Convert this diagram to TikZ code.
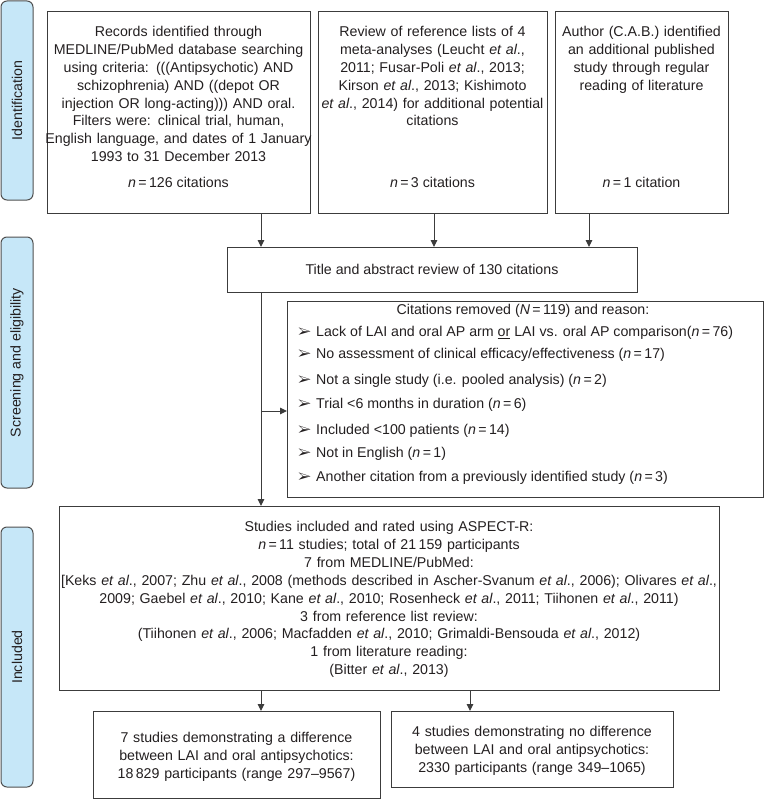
\documentclass[tikz,border=0pt]{standalone}
\usepackage{fontspec}
\setmainfont{Liberation Sans}
\usepackage{pifont}
\usetikzlibrary{arrows.meta}
\definecolor{txt}{HTML}{231F20}
\definecolor{ln}{HTML}{3C3C3C}
\definecolor{barfill}{HTML}{C6E7F8}
\definecolor{barline}{HTML}{505050}
\newcommand{\etal}{\textit{et al}.}
\newcommand{\nn}{\textit{n}\,=\,}
\newcommand{\fsz}{\fontsize{14.2}{17.9}\selectfont}
\newcommand{\bul}{\makebox[18pt][l]{\ding{226}}}
\begin{document}
\begin{tikzpicture}[x=1pt,y=-1pt,
  every node/.style={text=txt, font=\fsz},
  box/.style={draw=ln, line width=1pt, inner sep=0pt, anchor=north west},
  bar/.style={draw=barline, fill=barfill, line width=1pt, rounded corners=6pt, rotate=90, inner sep=0pt, minimum height=32pt},
  txtc/.style={anchor=base, align=center, inner sep=0pt},
  item/.style={anchor=base west, inner sep=0pt},
  arr/.style={draw=ln, line width=1pt, -{Triangle[length=7pt,width=6.5pt]}}]
\useasboundingbox (0,0) rectangle (765,800);

% side bars
\node[bar, minimum width=199pt] (idbar) at (17,100.5) {Identification};
\node[bar, minimum width=251pt] (scbar) at (17,362.5) {Screening and eligibility};
\node[bar, minimum width=260pt] (inbar) at (17,657) {Included};

% identification boxes
\node[box, minimum width=263pt, minimum height=202pt] (rec) at (47,11) {};
\node[box, minimum width=229pt, minimum height=202pt] (ref) at (318,11) {};
\node[box, minimum width=173pt, minimum height=202pt] (auth) at (555,11) {};

\node[txtc, text width=300pt] (rect) at (178.5,36.5) {Records identified through\\
MEDLINE/PubMed database searching\\
using criteria: (((Antipsychotic) AND\\
schizophrenia) AND ((depot OR\\
injection OR long-acting))) AND oral.\\
Filters were: clinical trial, human,\\
English language, and dates of 1 January\\
1993 to 31 December 2013};
\node[txtc] (recn) at (178.5,187.8) {\nn 126 citations};

\node[txtc, text width=260pt] (reft) at (432.5,36.5) {Review of reference lists of 4\\
meta-analyses (Leucht \etal,\\
2011; Fusar-Poli \etal, 2013;\\
Kirson \etal, 2013; Kishimoto\\
\etal, 2014) for additional potential\\
citations};
\node[txtc] (refn) at (432.5,187.8) {\nn 3 citations};

\node[txtc, text width=200pt] (autht) at (641.5,36.5) {Author (C.A.B.) identified\\
an additional published\\
study through regular\\
reading of literature};
\node[txtc] (authn) at (641.5,187.8) {\nn 1 citation};

% screening
\node[box, minimum width=410pt, minimum height=45pt] (title) at (227,247) {};
\node[txtc] (titlet) at (432,274.8) {Title and abstract review of 130 citations};

\node[box, minimum width=476pt, minimum height=196pt] (reasons) at (287,301) {};
\node[txtc] (r0) at (523,314.8) {Citations removed (\textit{N}\,=\,119) and reason:};
\node[item] (r1) at (298,336.5) {\bul Lack of LAI and oral AP arm \underline{or} LAI vs. oral AP comparison(\nn 76)};
\node[item] (r2) at (298,358.8) {\bul No assessment of clinical efficacy/effectiveness (\nn 17)};
\node[item] (r3) at (298,384.8) {\bul Not a single study (i.e. pooled analysis) (\nn 2)};
\node[item] (r4) at (298,408.8) {\bul Trial <6 months in duration (\nn 6)};
\node[item] (r5) at (298,434.8) {\bul Included <100 patients (\nn 14)};
\node[item] (r6) at (298,457.5) {\bul Not in English (\nn 1)};
\node[item] (r7) at (298,481.5) {\bul Another citation from a previously identified study (\nn 3)};

% included
\node[box, minimum width=660pt, minimum height=184pt] (studies) at (59,506) {};
\node[txtc, text width=740pt] (studiest) at (389,531.5) {Studies included and rated using ASPECT-R:\\
\nn 11 studies; total of 21\,159 participants\\
7 from MEDLINE/PubMed:\\
{[}Keks \etal, 2007; Zhu \etal, 2008 (methods described in Ascher-Svanum \etal, 2006); Olivares \etal,\\
2009; Gaebel \etal, 2010; Kane \etal, 2010; Rosenheck \etal, 2011; Tiihonen \etal, 2011)\\
3 from reference list review:\\
(Tiihonen \etal, 2006; Macfadden \etal, 2010; Grimaldi-Bensouda \etal, 2012)\\
1 from literature reading:\\
(Bitter \etal, 2013)};

\node[box, minimum width=287pt, minimum height=87pt] (diff) at (93,711) {};
\node[txtc, text width=300pt] (difft) at (236.5,742.5) {7 studies demonstrating a difference\\
between LAI and oral antipsychotics:\\
18\,829 participants (range 297--9567)};

\node[box, minimum width=282pt, minimum height=76pt] (nodiff) at (391,711) {};
\node[txtc, text width=300pt] (nodifft) at (532,736.5) {4 studies demonstrating no difference\\
between LAI and oral antipsychotics:\\
2330 participants (range 349--1065)};

% connectors
\coordinate (spine) at (261,0);
\coordinate (refx) at (434,0);
\coordinate (authx) at (589,0);
\coordinate (branch) at (261,411);
\coordinate (ndx) at (470,0);
\draw[arr] (rec.south -| spine) -- (title.north -| spine);
\draw[arr] (ref.south -| refx) -- (title.north -| refx);
\draw[arr] (auth.south -| authx) -- (title.north -| authx);
\draw[arr] (title.south -| spine) -- (studies.north -| spine);
\draw[arr] (branch) -- (branch -| reasons.west);
\draw[arr] (studies.south -| spine) -- (diff.north -| spine);
\draw[arr] (studies.south -| ndx) -- (nodiff.north -| ndx);
\end{tikzpicture}
\end{document}
